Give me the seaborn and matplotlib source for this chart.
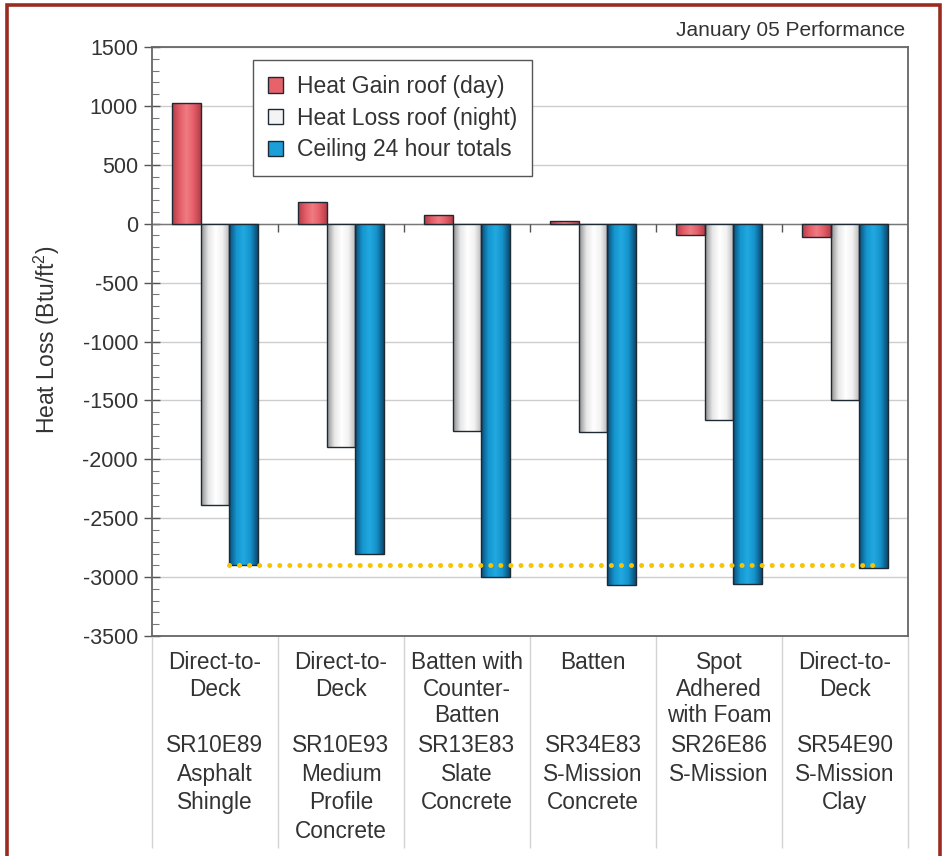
import numpy as np
import pandas as pd
import matplotlib
matplotlib.use("Agg")
import matplotlib.pyplot as plt
import matplotlib.transforms as mtransforms
from matplotlib.colors import LinearSegmentedColormap
from matplotlib.patches import Patch, Rectangle
from matplotlib.ticker import MultipleLocator
import seaborn as sns

# Roof systems tested (attachment method, then roof code / product)
attachment = ["Direct-to-\nDeck", "Direct-to-\nDeck", "Batten with\nCounter-\nBatten",
              "Batten", "Spot\nAdhered\nwith Foam", "Direct-to-\nDeck"]
roof_code = ["SR10E89\nAsphalt\nShingle", "SR10E93\nMedium\nProfile\nConcrete",
             "SR13E83\nSlate\nConcrete", "SR34E83\nS-Mission\nConcrete",
             "SR26E86\nS-Mission", "SR54E90\nS-Mission\nClay"]

series = ["Heat Gain roof (day)", "Heat Loss roof (night)", "Ceiling 24 hour totals"]

# January 05 totals, Btu/ft2
heat_gain_day = [1025, 185, 70, 25, -95, -115]
heat_loss_night = [-2385, -1895, -1760, -1770, -1665, -1500]
ceiling_24h = [-2900, -2805, -2995, -3065, -3060, -2925]

y_ticks = [1500, 1000, 500, 0, -500, -1000, -1500, -2000, -2500, -3000, -3500]

df = pd.DataFrame({
    "system": roof_code * 3,
    "series": np.repeat(series, len(roof_code)),
    "value": heat_gain_day + heat_loss_night + ceiling_24h,
})

sns.set_style("white")
plt.rcParams["font.family"] = ["Liberation Sans", "DejaVu Sans"]
plt.rcParams["mathtext.fontset"] = "custom"
plt.rcParams["mathtext.rm"] = "Liberation Sans"
plt.rcParams["mathtext.it"] = "Liberation Sans"
plt.rcParams["mathtext.bf"] = "Liberation Sans"
text_col = "#333333"

fig = plt.figure(figsize=(9.45, 8.56), dpi=100)
ax = fig.add_axes([152 / 945, 1 - 636 / 856, 756 / 945, 589 / 856])

base_cols = ["#E8626B", "#F4F4F4", "#1A9FD8"]
sns.barplot(data=df, x="system", y="value", hue="series", hue_order=series,
            order=roof_code, palette=base_cols, width=0.68, gap=0,
            edgecolor="#1E2A33", linewidth=1.0, legend=False, ax=ax, zorder=3)

# Shaded (cylinder-like) fills for each bar
gradients = [
    ["#B03E48", "#E35C66", "#F07C83", "#E55E68", "#B53F49"],
    ["#8E8E8E", "#E6E6E6", "#FFFFFF", "#F2F2F2", "#B5B5B5"],
    ["#0B4C75", "#1595CE", "#22A9E1", "#1592CA", "#0B4A70"],
]
for cont, stops in zip(ax.containers, gradients):
    cmap = LinearSegmentedColormap.from_list("shade", stops)
    grad = cmap(np.linspace(0, 1, 64))[None, :, :]
    for p in cont.patches:
        x0, y0 = p.get_x(), p.get_y()
        w, h = p.get_width(), p.get_height()
        im = ax.imshow(grad, extent=[x0, x0 + w, min(y0, y0 + h), max(y0, y0 + h)],
                       aspect="auto", zorder=3.1, interpolation="bilinear")
        im.set_clip_path(p)
        p.set_facecolor("none")
        p.set_zorder(3.2)

# Reference level: asphalt shingle ceiling total
ceil_bars = ax.containers[2].patches
x_start = ceil_bars[0].get_x()
x_end = ceil_bars[-1].get_x() + ceil_bars[-1].get_width() / 2
ax.hlines(ceiling_24h[0], x_start, x_end, colors="#F6C400", linewidth=3.6,
          linestyles=(0, (0.01, 2.0)), capstyle="round", zorder=4)

ax.set_xlim(-0.5, len(roof_code) - 0.5)
ax.set_ylim(min(y_ticks), max(y_ticks))
ax.set_yticks(y_ticks)
ax.yaxis.set_minor_locator(MultipleLocator(100))
ax.set_yticklabels([str(v) for v in y_ticks], fontsize=15.5, color=text_col)
ax.tick_params(axis="y", which="major", direction="inout", length=12, width=1,
               color="#555555", pad=4, left=True)
ax.tick_params(axis="y", which="minor", direction="in", length=5, width=0.8,
               color="#777777", left=True)
ax.set_xticks([])
ax.set_xlabel("")
ax.set_ylabel("")
ax.grid(axis="y", color="#CDCDCD", linewidth=1.0, zorder=0)
ax.set_axisbelow(True)
ax.axhline(0, color="#777777", linewidth=1.0, zorder=2.5)
for s in ax.spines.values():
    s.set_color("#666666")
    s.set_linewidth(1.3)
    s.set_visible(True)

# Category dividers: short ticks on the zero line, full rules through the label area
bounds = np.arange(len(roof_code) + 1) - 0.5
ax.vlines(bounds[1:-1], -70, 0, colors="#555555", linewidth=1.0, zorder=2.6)
blend = mtransforms.blended_transform_factory(ax.transData, ax.transAxes)
ax.vlines(bounds, -0.36, 0, transform=blend, colors="#D2D2D2", linewidth=1.0,
          clip_on=False)

for i, (top, bottom) in enumerate(zip(attachment, roof_code)):
    ax.text(i, -0.026, top, transform=blend, ha="center", va="top",
            fontsize=16.3, color=text_col, linespacing=1.18)
    ax.text(i, -0.167, bottom, transform=blend, ha="center", va="top",
            fontsize=16.3, color=text_col, linespacing=1.3)

handles = [Patch(facecolor=c, edgecolor="#1E2A33", linewidth=1.0) for c in base_cols]
leg = ax.legend(handles, series, loc="upper left",
                bbox_to_anchor=(253 / 945, 1 - 60 / 856), bbox_transform=fig.transFigure,
                borderaxespad=0, fancybox=False, framealpha=1, edgecolor="#555555",
                fontsize=16.5, handlelength=0.66, handleheight=0.66, handletextpad=0.6,
                labelspacing=0.38, borderpad=0.65)
leg.get_frame().set_linewidth(1.0)
for t in leg.get_texts():
    t.set_color(text_col)

fig.text(47 / 945, 1 - 340 / 856, r"Heat Loss (Btu/ft$^{2}$)", rotation=90, ha="center",
         va="center", fontsize=16.5, color=text_col)
fig.text(905 / 945, 1 - 30 / 856, "January 05 Performance", ha="right", va="center",
         fontsize=15, color=text_col)

# Outer frame
fig.patches.append(Rectangle((7 / 945, -0.05), 933 / 945, 1.05 - 5 / 856,
                             transform=fig.transFigure, fill=False,
                             edgecolor="#9A2B22", linewidth=2.6))

fig.savefig("out.png", dpi=100)
